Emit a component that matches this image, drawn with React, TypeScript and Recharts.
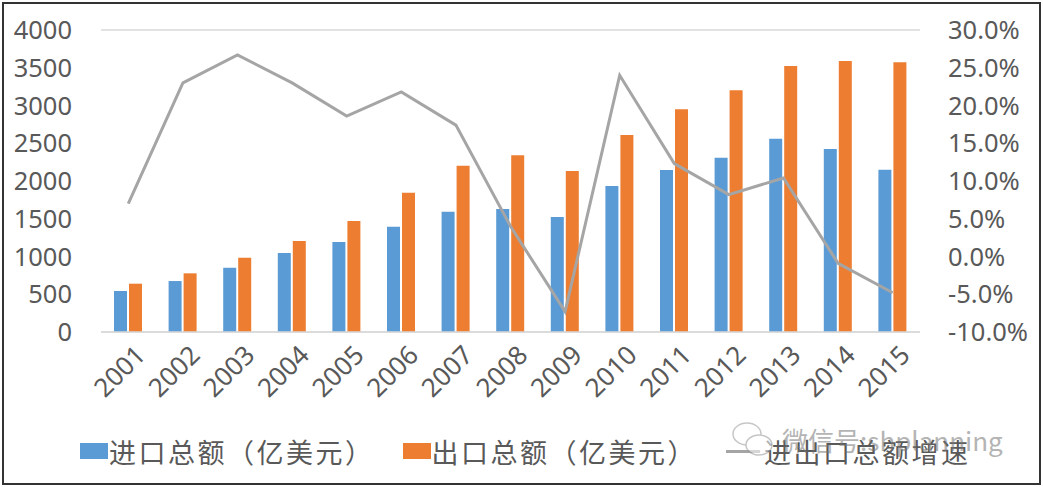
import { Bar, CartesianGrid, ComposedChart, Line, XAxis, YAxis } from "recharts";

const years = ["2001", "2002", "2003", "2004", "2005", "2006", "2007", "2008", "2009", "2010", "2011", "2012", "2013", "2014", "2015"];
const imports = [543, 675, 852, 1046, 1192, 1395, 1594, 1629, 1523, 1934, 2146, 2309, 2560, 2424, 2150];
const exports = [640, 777, 984, 1205, 1470, 1845, 2203, 2340, 2132, 2609, 2950, 3201, 3523, 3589, 3572];
const growth = [7.0, 23.0, 26.7, 23.0, 18.6, 21.8, 17.4, 4.0, -7.3, 24.0, 12.3, 8.2, 10.4, -0.9, -4.8];

const leftTicks = [0, 500, 1000, 1500, 2000, 2500, 3000, 3500, 4000];
const rightTicks = [-10, -5, 0, 5, 10, 15, 20, 25, 30];

const data = years.map((year, i) => ({
  year,
  imports: imports[i],
  exports: exports[i],
  growth: growth[i],
}));

const BLUE = "#5B9BD5";
const ORANGE = "#ED7D31";
const GRAY = "#A5A5A5";
const TEXT = "#595959";
const FONT = "'Noto Sans', 'Noto Sans CJK SC', sans-serif";

// rotated year labels under the bars
const YearTick = (props: any) => {
  const { x, y, payload } = props;
  return (
    <g transform={`translate(${x + 6},${y + 4})`}>
      <text x={0} y={0} dy={18} textAnchor="end" transform="rotate(-45)" fill={TEXT} fontSize={26} fontFamily={FONT}>
        {payload.value}
      </text>
    </g>
  );
};

const legendText: React.CSSProperties = {
  fontSize: 27,
  color: TEXT,
  fontFamily: "'Noto Sans CJK SC', sans-serif",
  letterSpacing: 2.5,
  whiteSpace: "nowrap",
};

export default function App() {
  return (
    <div style={{ position: "absolute", left: 0, top: 0, width: 1043, height: 487, background: "#fff" }}>
      <ComposedChart
        width={1043}
        height={487}
        data={data}
        margin={{ top: 30, right: 0, bottom: 0, left: 0 }}
        barSize={13}
        barGap={2}
      >
        <CartesianGrid vertical={false} stroke="#D9D9D9" strokeWidth={1.5} />
        <XAxis
          dataKey="year"
          height={155}
          tick={<YearTick />}
          tickLine={false}
          axisLine={{ stroke: "#D9D9D9", strokeWidth: 1.5 }}
          interval={0}
        />
        <YAxis
          yAxisId="left"
          width={101}
          domain={[0, 4000]}
          ticks={leftTicks}
          tickLine={false}
          axisLine={false}
          tickSize={0}
          tickMargin={29}
          tick={{ fill: TEXT, fontSize: 25.5, fontFamily: FONT }}
        />
        <YAxis
          yAxisId="right"
          orientation="right"
          width={123}
          domain={[-10, 30]}
          ticks={rightTicks}
          tickLine={false}
          axisLine={false}
          tickSize={0}
          tickMargin={28}
          tickFormatter={(v: number) => `${v.toFixed(1)}%`}
          tick={{ fill: TEXT, fontSize: 25.5, fontFamily: FONT }}
        />
        <Bar yAxisId="left" dataKey="imports" fill={BLUE} isAnimationActive={false} />
        <Bar yAxisId="left" dataKey="exports" fill={ORANGE} isAnimationActive={false} />
        <Line
          yAxisId="right"
          type="linear"
          dataKey="growth"
          stroke={GRAY}
          strokeWidth={3}
          dot={false}
          isAnimationActive={false}
        />
      </ComposedChart>

      {/* legend */}
      <div style={{ position: "absolute", left: 80, top: 431, display: "flex", alignItems: "center", height: 40 }}>
        <div style={{ width: 28, height: 16, background: BLUE }} />
        <span style={{ ...legendText, marginLeft: 1 }}>进口总额（亿美元）</span>
        <div style={{ width: 28, height: 16, background: ORANGE, marginLeft: 28 }} />
        <span style={{ ...legendText, marginLeft: 1 }}>出口总额（亿美元）</span>
        <div style={{ width: 34, height: 3, background: GRAY, marginLeft: 29 }} />
        <span style={{ ...legendText, marginLeft: 4 }}>进出口总额增速</span>
      </div>

      {/* watermark */}
      <div style={{ position: "absolute", left: 730, top: 419, display: "flex", alignItems: "center", opacity: 0.55 }}>
        <svg width={46} height={40}>
          <ellipse cx={17} cy={15} rx={14} ry={11} fill="#fff" stroke="#999" strokeWidth={1.5} />
          <ellipse cx={29} cy={26} rx={13} ry={10} fill="#fff" stroke="#999" strokeWidth={1.5} />
        </svg>
        <span style={{ fontSize: 26, color: "#777", fontFamily: "'Noto Sans CJK SC', sans-serif", marginLeft: 6 }}>
          微信号:shplanning
        </span>
      </div>

      {/* frame */}
      <div
        style={{
          position: "absolute",
          left: 2,
          top: 2,
          width: 1035,
          height: 479,
          border: "2px solid #333",
          pointerEvents: "none",
        }}
      />
    </div>
  );
}
